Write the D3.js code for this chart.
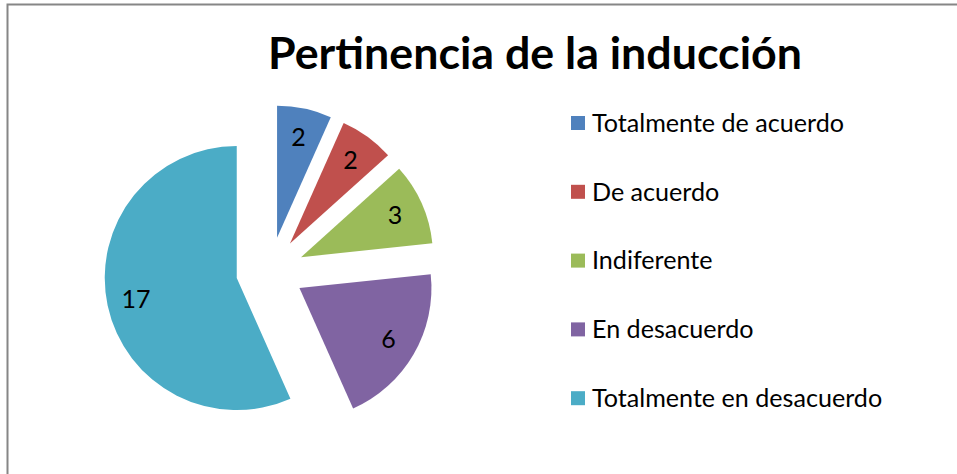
<!DOCTYPE html>
<html>
<head>
<meta charset="utf-8">
<title>Pertinencia de la inducción</title>
<style>
body {
    margin: 0px;
    overflow: hidden;
    background: #fff;
}
text {
    font-family: Lato, "Open Sans", sans-serif;
}
</style>
<script src="https://cdnjs.cloudflare.com/ajax/libs/d3/7.8.5/d3.min.js"></script>
</head>
<body>
<div id="chart"></div>
<script>

var categories = ["Totalmente de acuerdo", "De acuerdo", "Indiferente", "En desacuerdo", "Totalmente en desacuerdo"];
var values = [2, 2, 3, 6, 17];
var colors = ["#4F81BD", "#C0504D", "#9BBB59", "#8064A2", "#4BACC6"];
var title = "Pertinencia de la inducción";

var width = 957,
    height = 474;

var svg = d3.select("#chart").append("svg")
        .attr("width", width)
        .attr("height", height);

// chart border (only top and left visible in the crop)
svg.append("path")
    .attr("d", "M7.5,474 L7.5,4.5 L957,4.5")
    .attr("fill", "none")
    .attr("stroke", "#868686")
    .attr("stroke-width", 2);

// title, sized to the width it has in the picture
var titleText = svg.append("text")
    .attr("x", 535)
    .attr("y", 69)
    .attr("text-anchor", "middle")
    .attr("font-weight", "bold")
    .attr("font-size", 40)
    .attr("fill", "#000")
    .text(title);
var tw = titleText.node().getComputedTextLength();
titleText.attr("font-size", 40 * 534 / tw);

// exploded pie
var cx = 270, cy = 271, radius = 132, explode = 34;

var pie = d3.pie().sort(null).value(function (d) { return d; });
var arc = d3.arc().innerRadius(0).outerRadius(radius);
var labelArc = d3.arc().innerRadius(radius * 0.78).outerRadius(radius * 0.78);

var slices = svg.append("g")
    .attr("transform", "translate(" + cx + "," + cy + ")")
    .selectAll("g")
    .data(pie(values))
    .enter().append("g")
    .attr("transform", function (d) {
        var a = (d.startAngle + d.endAngle) / 2;
        return "translate(" + (Math.sin(a) * explode) + "," + (-Math.cos(a) * explode) + ")";
    });

slices.append("path")
    .attr("d", arc)
    .attr("fill", function (d, i) { return colors[i]; });

slices.append("text")
    .attr("transform", function (d) {
        var c = labelArc.centroid(d);
        return "translate(" + c[0] + "," + c[1] + ")";
    })
    .attr("text-anchor", "middle")
    .attr("dy", "0.36em")
    .attr("font-size", 25)
    .attr("fill", "#000")
    .text(function (d) { return d.value; });

// legend
var legend = svg.append("g")
    .selectAll("g")
    .data(categories)
    .enter().append("g")
    .attr("transform", function (d, i) { return "translate(571," + (123 + i * 68.8) + ")"; });

legend.append("rect")
    .attr("x", 0)
    .attr("y", -7)
    .attr("width", 14)
    .attr("height", 14)
    .attr("fill", function (d, i) { return colors[i]; });

var legendText = legend.append("text")
    .attr("x", 21)
    .attr("dy", "0.35em")
    .attr("font-size", 24)
    .attr("fill", "#000")
    .text(function (d) { return d; });

var lw = legendText.nodes()[0].getComputedTextLength();
legendText.attr("font-size", 24 * 252 / lw);

</script>
</body>
</html>
